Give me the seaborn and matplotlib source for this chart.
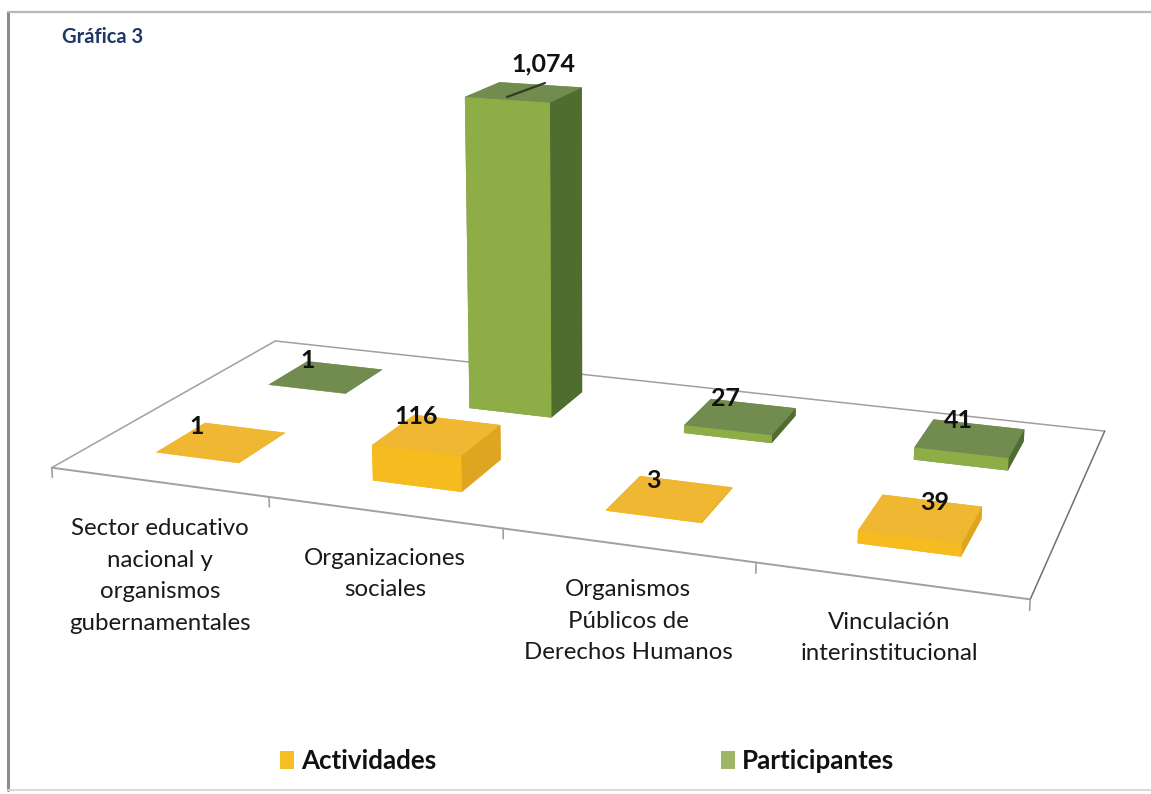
import numpy as np
import pandas as pd
import matplotlib
matplotlib.use("Agg")
import matplotlib.pyplot as plt
from matplotlib.lines import Line2D
from matplotlib.patches import Patch
import seaborn as sns

categorias = ["Sector educativo\nnacional y\norganismos\ngubernamentales",
              "Organizaciones\nsociales",
              "Organismos\nPúblicos de\nDerechos Humanos",
              "Vinculación\ninterinstitucional"]
actividades = [1, 116, 3, 39]
participantes = [1, 1074, 27, 41]
series = ["Actividades", "Participantes"]

W, H = 1151, 794
sns.set_theme(style="white")
plt.rcParams["font.family"] = ["Lato", "DejaVu Sans"]

df = pd.DataFrame({"categoria": categorias, "Actividades": actividades, "Participantes": participantes})
df = df.melt(id_vars="categoria", var_name="serie", value_name="valor")
df["x"] = df["categoria"].map({c: i for i, c in enumerate(categorias)})
df["y"] = df["serie"].map({s: i for i, s in enumerate(series)})

# face order in bar3d: bottom, top, front, back, left, right
caras = {
    "Actividades": ["#F0B429", "#F0B733", "#F6BB1E", "#F0B429", "#F0B429", "#DEA520"],
    "Participantes": ["#7A9455", "#728C50", "#8FAD47", "#7A9455", "#7A9455", "#4F6D2F"],
}
leyenda = sns.color_palette(["#F5BE22", "#9DB565"])

fig = plt.figure(figsize=(W / 100, H / 100), dpi=100, facecolor="white")
ax = fig.add_axes([0, 0, 1, 1], projection="3d", facecolor="none")
ax.set_xlim(0, 4)
ax.set_ylim(0, 2)
ax.set_zlim(0, 1150)
ax.set_box_aspect((4, 1.953, 1.5))
ax.set_proj_type("persp", focal_length=0.375)
ax.view_init(elev=14.821, azim=-69.987)
ax.set_axis_off()
ax.computed_zorder = False

# place the axes so the floor lands where it is in the reference
escala, tx, ty = 5981.2, 590.8, 276.6
vl = ax.viewLim
lado = escala * (vl.x1 - vl.x0)
ax.set_position([(tx + escala * vl.x0) / W, (H - ty + escala * vl.y0) / H, lado / W, lado / H])

# floor outline and ticks
piso = "#a0a0a0"
ax.plot([0, 0, 4], [0, 2, 2], [0, 0, 0], color=piso, lw=1.1, zorder=1)
ax.plot([0, 4], [0, 0], [0, 0], color=piso, lw=1.4, zorder=1)
ax.plot([4, 4], [0, 2], [0, 0], color="#707070", lw=1.1, zorder=1)
for i in range(5):
    ax.plot([i, i], [0, 0], [0, -32], color=piso, lw=1.2, zorder=1)

ancho = 0.39
inicio = {"Actividades": 0.32, "Participantes": 1.34}
fondo = {"Actividades": 0.42, "Participantes": 0.40}
orden = df.sort_values(["y", "x"], ascending=[False, True]).reset_index(drop=True)
for n, fila in orden.iterrows():
    ax.bar3d(fila["x"] + 0.5 - ancho / 2, inicio[fila["serie"]], 0, ancho, fondo[fila["serie"]], fila["valor"],
             color=caras[fila["serie"]], shade=False, edgecolor="none", zorder=5 + n)

def px(x, y):
    return x / W, 1 - y / H

# value labels
etiquetas = [("Actividades", 0, 197, 427), ("Actividades", 1, 416, 417), ("Actividades", 2, 653, 481),
             ("Actividades", 3, 935, 503), ("Participantes", 0, 308, 361), ("Participantes", 1, 543, 64),
             ("Participantes", 2, 725, 398), ("Participantes", 3, 958, 420)]
for serie, i, lx, ly in etiquetas:
    v = df[(df["serie"] == serie) & (df["x"] == i)]["valor"].iloc[0]
    fig.text(*px(lx, ly), f"{v:,}", ha="center", va="center", fontsize=18, fontweight="bold", color="#111111", zorder=30)
fig.add_artist(Line2D([507 / W, 545 / W], [1 - 97 / H, 1 - 83 / H], color="#2f3b25", lw=1.6, zorder=30))

# category labels
sitios = [(160, 576), (385, 574), (628, 621), (889, 638)]
for c, (lx, ly) in zip(categorias, sitios):
    fig.text(*px(lx, ly), c, ha="center", va="center", fontsize=17.3, color="#1a1a1a", linespacing=1.62)

fig.text(*px(62, 37), "Gráfica 3", ha="left", va="center", fontsize=14.5, fontweight="bold", color="#1F3864")

# legend
handles = [Patch(facecolor=c, edgecolor="none", label=s) for c, s in zip(leyenda, series)]
leg = fig.legend(handles=handles, ncol=2, loc="center", bbox_to_anchor=(587 / W, 1 - 761 / H), frameon=False,
                 prop={"size": 18.7, "weight": "bold"}, labelcolor="#111111", columnspacing=10.96,
                 handlelength=0.55, handleheight=0.7, handletextpad=0.25)

# frame of the scanned page
for xs, ys, col, lw in [((8, 8), (12, 790), "#8c8c8c", 2.2), ((8, 1151), (12, 12), "#b8b8b8", 1.6),
                        ((8, 1151), (790, 790), "#d8d8d8", 1.4)]:
    fig.add_artist(Line2D([x / W for x in xs], [1 - y / H for y in ys], color=col, lw=lw))

fig.savefig("out.png", dpi=100)
